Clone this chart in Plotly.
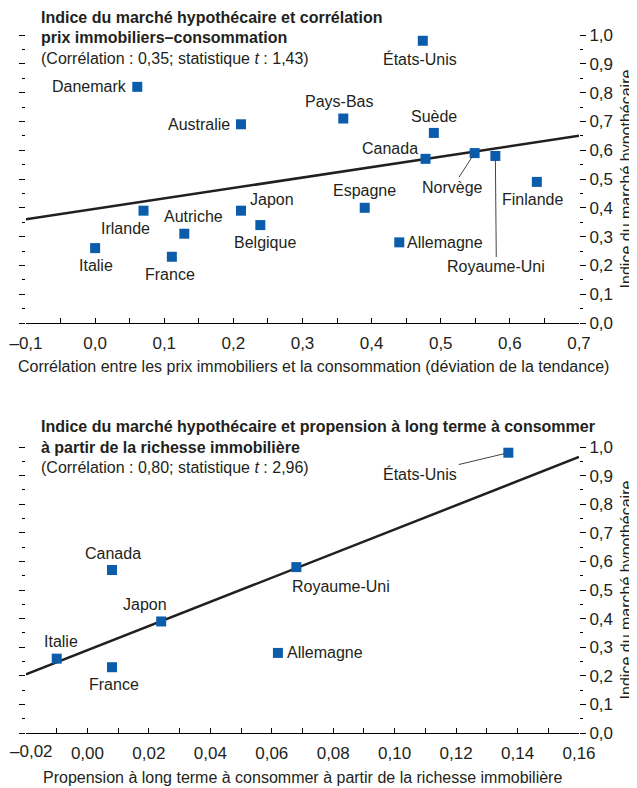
import plotly.graph_objects as go

# Top panel: mortgage market index vs. house price / consumption correlation
pays_1 = ['États-Unis', 'Danemark', 'Pays-Bas', 'Australie', 'Suède', 'Canada', 'Norvège',
          'Royaume-Uni', 'Finlande', 'Espagne', 'Japon', 'Irlande', 'Autriche', 'Belgique',
          'Allemagne', 'Italie', 'France']
correlation = [0.474, 0.061, 0.359, 0.211, 0.49, 0.478, 0.549, 0.579, 0.639, 0.39, 0.211,
               0.07, 0.129, 0.239, 0.44, 0.0, 0.111]
indice_1 = [0.98, 0.82, 0.71, 0.69, 0.66, 0.57, 0.59, 0.58, 0.49, 0.40, 0.39, 0.39, 0.31,
            0.34, 0.28, 0.26, 0.23]
fit_x1 = [-0.1, 0.7]
fit_y1 = [0.36, 0.65]

# Bottom panel: mortgage market index vs. long-run MPC out of housing wealth
pays_2 = ['États-Unis', 'Canada', 'Royaume-Uni', 'Japon', 'Italie', 'France', 'Allemagne']
propension = [0.137, 0.008, 0.068, 0.024, -0.01, 0.008, 0.062]
indice_2 = [0.98, 0.57, 0.58, 0.39, 0.26, 0.23, 0.28]
fit_x2 = [-0.02, 0.16]
fit_y2 = [0.205, 0.965]

xticks_1 = [-0.1, 0.0, 0.1, 0.2, 0.3, 0.4, 0.5, 0.6, 0.7]
xlabels_1 = ['–0,1', '0,0', '0,1', '0,2', '0,3', '0,4', '0,5', '0,6', '0,7']
xticks_2 = [-0.02, 0.0, 0.02, 0.04, 0.06, 0.08, 0.10, 0.12, 0.14, 0.16]
xlabels_2 = ['–0,02', '0,00', '0,02', '0,04', '0,06', '0,08', '0,10', '0,12', '0,14', '0,16']
yticks = [0.0, 0.1, 0.2, 0.3, 0.4, 0.5, 0.6, 0.7, 0.8, 0.9, 1.0]
ylabels = ['0,0', '0,1', '0,2', '0,3', '0,4', '0,5', '0,6', '0,7', '0,8', '0,9', '1,0']

FONT = 'Liberation Sans, Arial, sans-serif'
FS = 16
BLUE = '#0b5cab'
# the page body has an 8px margin, so the figure is drawn 8px in from the corner
OFF = 8
W, H = 637 - OFF, 788 - OFF
L, R = 26 - OFF, 58


def xp(px):
    # page pixel -> paper fraction
    return (px - OFF - L) / (W - L - R)


def yp(py):
    return 1 - (py - OFF) / H


# label placement: xanchor, yanchor, xshift, yshift (or arrow offsets)
place_1 = {
    'États-Unis': ('center', 'top', -3, -7),
    'Danemark': ('right', 'middle', -8, 0),
    'Pays-Bas': ('center', 'bottom', -4, 7),
    'Australie': ('right', 'middle', -9, 0),
    'Suède': ('center', 'bottom', 0, 6),
    'Canada': ('right', 'middle', -6, 10),
    'Finlande': ('center', 'top', -4, -7),
    'Espagne': ('center', 'bottom', 0, 7),
    'Japon': ('left', 'middle', 7, 11),
    'Irlande': ('center', 'top', -18, -7),
    'Autriche': ('center', 'bottom', 9, 7),
    'Belgique': ('center', 'top', 5, -7),
    'Allemagne': ('left', 'middle', 6, 0),
    'Italie': ('center', 'top', 1, -7),
    'France': ('center', 'top', -2, -7),
}
arrows_1 = {'Norvège': (-22, 34), 'Royaume-Uni': (1, 111)}

place_2 = {
    'Canada': ('center', 'bottom', 1, 6),
    'Royaume-Uni': ('left', 'top', -6, -9),
    'Japon': ('center', 'bottom', -16, 6),
    'Italie': ('center', 'bottom', 4, 7),
    'France': ('center', 'top', 2, -7),
    'Allemagne': ('left', 'middle', 7, 0),
}
arrows_2 = {'États-Unis': (-88, 21)}

fig = go.Figure()

fig.add_trace(go.Scatter(x=fit_x1, y=fit_y1, mode='lines', line=dict(color='#231f20', width=2.5),
                         xaxis='x', yaxis='y', hoverinfo='skip'))
fig.add_trace(go.Scatter(x=correlation, y=indice_1, mode='markers', text=pays_1,
                         marker=dict(symbol='square', size=10, color=BLUE),
                         xaxis='x', yaxis='y'))
fig.add_trace(go.Scatter(x=fit_x2, y=fit_y2, mode='lines', line=dict(color='#231f20', width=2.5),
                         xaxis='x2', yaxis='y2', hoverinfo='skip'))
fig.add_trace(go.Scatter(x=propension, y=indice_2, mode='markers', text=pays_2,
                         marker=dict(symbol='square', size=10, color=BLUE),
                         xaxis='x2', yaxis='y2'))

annotations = []


def add_labels(names, xs, ys, place, arrows, xref, yref):
    for name, x, y in zip(names, xs, ys):
        if name in arrows:
            ax, ay = arrows[name]
            annotations.append(dict(x=x, y=y, xref=xref, yref=yref, text=name, showarrow=True,
                                    arrowhead=0, arrowwidth=1, arrowcolor='#444', ax=ax, ay=ay,
                                    standoff=3, font=dict(size=FS)))
        else:
            xa, ya, xs_, ys_ = place[name]
            annotations.append(dict(x=x, y=y, xref=xref, yref=yref, text=name, showarrow=False,
                                    xanchor=xa, yanchor=ya, xshift=xs_, yshift=ys_,
                                    font=dict(size=FS)))


add_labels(pays_1, correlation, indice_1, place_1, arrows_1, 'x', 'y')
add_labels(pays_2, propension, indice_2, place_2, arrows_2, 'x2', 'y2')

# panel titles
titles = [
    ('<b>Indice du marché hypothécaire et corrélation</b>', 18),
    ('<b>prix immobiliers–consommation</b>', 38),
    ('(Corrélation : 0,35; statistique <i>t</i> : 1,43)', 59),
    ('<b>Indice du marché hypothécaire et propension à long terme à consommer</b>', 426),
    ('<b>à partir de la richesse immobilière</b>', 447),
    ('(Corrélation : 0,80; statistique <i>t</i> : 2,96)', 467),
]
for txt, py in titles:
    annotations.append(dict(x=xp(39), y=yp(py), xref='paper', yref='paper', text=txt,
                            showarrow=False, xanchor='left', yanchor='middle', font=dict(size=FS)))

# axis titles
annotations.append(dict(x=xp(313), y=yp(367), xref='paper', yref='paper', showarrow=False,
                        text='Corrélation entre les prix immobiliers et la consommation (déviation de la tendance)',
                        xanchor='center', yanchor='middle', font=dict(size=FS)))
annotations.append(dict(x=xp(302), y=yp(777), xref='paper', yref='paper', showarrow=False,
                        text='Propension à long terme à consommer à partir de la richesse immobilière',
                        xanchor='center', yanchor='middle', font=dict(size=FS)))

# first bottom tick label would spill past the left edge: draw it flush with the edge
annotations.append(dict(x=xticks_2[0], y=yp(751), xref='x2', yref='paper', showarrow=False,
                        text=xlabels_2[0], xanchor='left', yanchor='middle', xshift=-L,
                        font=dict(size=17)))
xlabels_2_axis = [''] + xlabels_2[1:]

xaxis_common = dict(showline=True, linecolor='black', linewidth=1, ticks='inside', ticklen=5,
                    tickcolor='black', showgrid=False, zeroline=False, tickfont=dict(size=17),
                    automargin=False, ticklabeloverflow='allow', ticklabelstandoff=5)
yaxis_common = dict(side='right', range=[0, 1.0], tickvals=yticks, ticktext=ylabels,
                    ticks='outside', ticklen=6, tickcolor='black', mirror='ticks',
                    showline=False, showgrid=False, zeroline=False, tickfont=dict(size=17),
                    automargin=False,
                    title=dict(text='Indice du marché hypothécaire', font=dict(size=FS), standoff=8),
                    minor=dict(dtick=0.05, ticks='outside', ticklen=3, tickcolor='black'))

fig.update_layout(
    width=W, height=H,
    margin=dict(l=L, r=R, t=0, b=0),
    paper_bgcolor='white', plot_bgcolor='white',
    font=dict(family=FONT, color='#231f20', size=FS),
    showlegend=False,
    xaxis=dict(xaxis_common, domain=[0, 1], range=[-0.1, 0.7], tickvals=xticks_1,
               ticktext=xlabels_1, anchor='y',
               minor=dict(dtick=0.05, tick0=0, ticks='inside', ticklen=5, tickcolor='black')),
    yaxis=dict(yaxis_common, domain=[yp(323), yp(35)], anchor='x'),
    xaxis2=dict(xaxis_common, domain=[0, 1], range=[-0.02, 0.16], tickvals=xticks_2,
                ticktext=xlabels_2_axis, anchor='y2',
                minor=dict(dtick=0.01, tick0=0, ticks='inside', ticklen=5, tickcolor='black')),
    yaxis2=dict(yaxis_common, domain=[yp(733), yp(447)], anchor='x2'),
    annotations=annotations,
)

fig.write_html('out.html')
